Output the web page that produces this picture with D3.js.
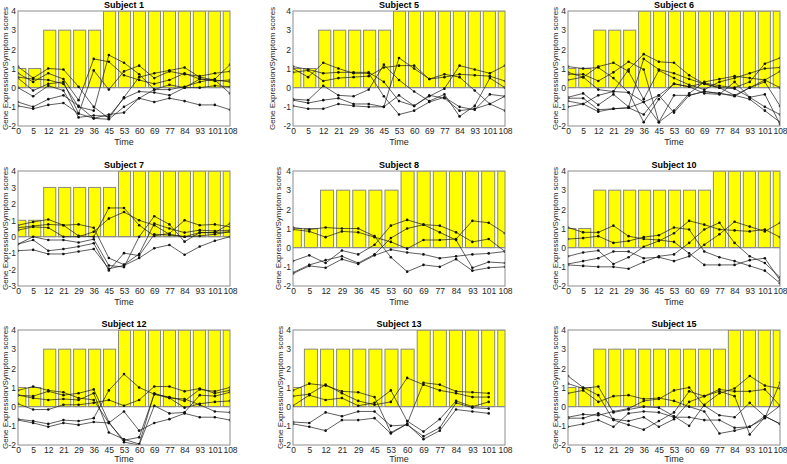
<!DOCTYPE html>
<html><head><meta charset="utf-8">
<script src="https://cdn.jsdelivr.net/npm/d3@7"></script>
<style>
html,body{margin:0;padding:0;background:#fff;}
svg{display:block;font-family:"Liberation Sans",Arial,sans-serif;}
</style></head>
<body>
<svg id="chart" width="787" height="464"></svg>
<script>
// ---------- DATA ----------
const titles = ["Subject 1","Subject 5","Subject 6","Subject 7","Subject 8","Subject 10","Subject 12","Subject 13","Subject 15"];

const timesA = ["0","5","12","21","29","36","45","53","60","69","77","84","93","101","108"];
const timesS8 = ["0","5","12","29","36","45","53","60","69","77","84","93","101","108"];
const timesS13 = ["0","5","12","21","29","45","53","60","69","77","84","93","101","108"];

const yDomainDefault = [-2, 4];
const yDomainS7 = [-3, 4];

const s1Scores = [1,1,3,3,3,3,4,4,4,4,4,4,4,4,4];
const s5Scores = [1,1,3,3,3,3,3,4,4,4,4,4,4,4,4];
const s6Scores = [1,1,3,3,3,4,4,4,4,4,4,4,4,4,4];
const s7Scores = [1,1,3,3,3,3,3,4,4,4,4,4,4,4,4];
const s8Scores = [1,1,3,3,3,3,3,4,4,4,4,4,4,4];
const s10Scores = [1,1,3,3,3,3,3,3,3,3,4,4,4,4,4];
const s12Scores = [1,1,3,3,3,3,3,4,4,4,4,4,4,4,4];
const s13Scores = [1,3,3,3,3,3,3,3,4,4,4,4,4,4];
const s15Scores = [1,1,3,3,3,3,3,3,3,3,3,4,4,4,4];

const s1Genes = [
  [1.1,0.5,1.0,0.95,0.05,-1.0,-1.6,-0.5,0.55,0.75,0.9,1.05,0.55,0.4,0.3],
  [0.75,0.3,0.75,0.45,-0.65,1.5,1.35,0.65,0.4,0.2,0.4,0.75,0.45,0.35,0.4],
  [0.55,0.45,0.4,0.2,-1.0,-1.2,1.7,1.3,0.7,-0.1,-0.1,0.05,0.3,0.45,1.2],
  [0.5,-0.15,0.2,0.3,-1.35,0.9,-0.1,0.85,1.15,0.5,0.85,0.7,0.6,0.75,0.85],
  [0.0,-0.45,0.1,-0.15,-1.55,-1.45,-1.5,-0.55,-0.2,-0.25,-0.4,0.0,0.0,0.1,0.05],
  [-0.75,-1.0,-0.6,-0.4,-0.95,-1.6,-1.65,-1.0,-0.55,-0.1,0.15,0.0,0.45,0.4,-0.3],
  [-0.95,-1.1,-0.9,-0.8,-1.35,-1.6,-1.4,-1.3,-0.55,-0.75,-0.55,-0.7,-0.9,-0.9,-1.15]
];
const s5Genes = [
  [1.1,0.95,0.75,0.8,0.8,0.8,0.3,-0.7,-0.95,-0.45,-0.05,1.15,0.95,0.75,1.15],
  [1.0,0.55,1.3,1.0,0.75,0.75,-0.45,-1.4,-1.2,-0.75,-0.5,-1.0,-1.15,-0.35,-0.45],
  [0.8,0.9,0.35,0.5,0.55,0.6,1.05,1.15,1.15,0.45,0.55,0.7,0.65,0.6,0.35],
  [-0.6,-0.65,0.1,-0.4,-0.45,-0.1,1.2,0.4,-0.2,-0.7,-0.35,-1.5,-0.95,0.5,0.0],
  [-0.65,-0.8,-0.65,-0.55,-0.85,-0.85,-1.0,1.55,1.0,0.45,0.7,0.55,-0.15,-0.85,-1.2],
  [-0.95,-1.1,-1.1,-0.85,-0.95,-1.0,-1.0,-0.4,-0.95,-0.4,-0.55,-1.2,-1.1,-0.85,-0.45]
];
const s6Genes = [
  [1.1,1.0,1.05,0.5,-0.25,-1.8,-0.6,0.2,0.05,0.25,0.1,0.0,0.3,1.25,1.55],
  [0.8,0.55,1.1,1.3,0.85,-0.6,0.9,0.5,0.15,-0.1,0.3,0.5,0.75,1.0,1.05],
  [0.7,0.7,0.35,0.8,1.35,0.95,-1.8,-1.2,-0.3,0.3,0.45,0.6,0.5,0.4,0.85],
  [0.4,0.55,-0.1,-0.2,0.95,1.75,1.35,1.3,0.65,0.2,0.0,-0.05,-0.5,-1.0,-1.4],
  [-0.5,-0.3,-0.9,-0.35,-1.0,1.5,0.95,0.75,0.45,0.2,0.0,-0.4,-0.6,-1.2,-1.8],
  [-0.55,-0.55,-1.15,-1.1,-1.05,-0.75,-0.4,-1.3,-0.4,-0.2,-0.3,-0.45,0.0,0.3,-0.95],
  [-0.7,-0.85,-1.25,-1.1,-1.05,-1.4,-0.4,0.2,0.05,-0.3,-0.35,0.3,-0.5,-0.35,-1.9],
  [-1.0,-0.85,-0.4,-0.2,-0.25,-0.75,-1.8,-0.4,-0.4,-0.2,-0.3,-0.4,0.0,0.4,0.0]
];
const s7Genes = [
  [0.7,0.9,1.05,0.7,0.05,0.0,1.75,1.75,0.7,0.05,0.2,1.0,0.7,0.75,0.6],
  [0.55,0.65,0.75,0.7,0.75,0.55,-1.3,-1.7,-1.05,0.8,0.5,0.25,0.4,0.35,0.4],
  [0.4,0.6,0.55,0.0,0.0,0.3,1.1,1.5,1.0,0.7,0.15,0.0,0.05,0.15,0.3],
  [-0.45,0.0,-0.2,-0.2,-0.35,-0.15,-1.75,-1.85,0.0,1.25,0.75,-0.3,0.25,0.25,0.8],
  [-0.45,-0.2,-0.85,-0.75,-0.6,-0.4,-2.05,-1.0,-1.15,0.15,0.1,0.0,0.25,0.25,0.3],
  [-0.85,-0.8,-1.05,-1.05,-0.9,-0.75,-1.95,-1.75,-1.3,-0.7,-0.5,-1.1,-0.6,-0.25,0.0]
];
const s8Genes = [
  [1.05,0.95,1.05,1.0,1.0,0.6,-0.5,-1.25,-0.9,-1.0,-0.6,-1.2,-1.05,-1.0],
  [0.95,0.85,0.55,0.85,0.8,0.55,0.3,-0.05,0.4,0.4,0.45,1.4,1.3,0.75],
  [-0.7,-0.4,-0.8,-0.15,-0.35,0.15,1.15,1.45,1.2,1.15,0.8,0.3,0.45,-0.2],
  [-1.3,-0.9,-0.65,-0.45,-0.8,-0.35,0.5,1.0,1.2,0.8,0.4,-1.05,-0.75,-0.8],
  [-1.35,-0.95,-1.05,-0.6,-0.85,-0.4,-0.1,-0.25,-0.35,-0.55,-0.45,-0.35,-0.3,-0.2]
];
const s10Genes = [
  [1.05,0.8,0.8,1.15,0.6,0.45,0.4,0.3,-0.3,-0.9,-0.9,-0.9,-0.65,-0.55,-1.7],
  [0.45,0.5,0.6,0.25,0.35,0.55,0.65,1.05,0.95,-0.2,-0.5,-0.7,-0.95,-1.2,-1.85],
  [-0.45,-0.25,-0.15,-0.85,-0.5,0.05,0.35,0.75,1.4,1.2,0.95,0.9,0.85,0.95,0.55],
  [-0.85,-0.7,-0.55,-0.2,-0.2,-0.55,-0.5,-0.7,-0.45,0.15,0.7,1.35,1.1,0.85,1.3],
  [-0.9,-0.95,-1.0,-1.0,-1.1,-0.75,-0.45,-0.35,0.25,0.95,1.3,0.25,-0.45,-0.8,-1.55]
];
const s12Genes = [
  [0.85,1.05,0.85,0.75,0.45,0.35,-0.85,-1.75,-1.6,0.65,0.5,0.3,0.9,0.8,1.0],
  [0.6,0.55,0.8,0.6,0.7,0.9,-0.8,-1.85,-2.0,0.05,-0.35,-0.3,0.6,0.55,0.75],
  [0.6,0.45,0.35,0.4,0.35,0.7,-1.35,-1.7,-1.95,0.7,0.45,0.4,0.1,-0.25,-0.3],
  [0.15,-0.15,-0.15,0.1,0.1,0.2,0.35,0.05,0.35,1.05,1.05,0.8,0.95,0.7,0.85],
  [-0.65,-0.75,-0.9,-0.7,-0.75,-0.6,0.85,1.7,1.0,0.65,0.45,-0.05,0.15,0.25,0.3],
  [-0.7,-0.85,-1.05,-0.85,-0.95,-0.8,-0.85,-0.25,-1.25,-0.85,-0.65,-0.35,-0.55,-0.55,-0.7]
];
const s13Genes = [
  [0.85,1.2,1.1,0.8,0.75,0.5,-1.35,-0.9,1.25,1.15,0.8,0.75,0.7],
  [0.55,0.65,1.15,0.7,0.3,0.1,0.25,1.5,1.15,0.85,0.7,0.5,0.5],
  [0.05,0.6,0.35,0.45,0.05,0.2,0.85,-0.75,-1.3,-0.65,0.3,0.0,0.25],
  [-0.8,-0.85,-0.3,-0.5,-0.25,-0.25,-1.0,-0.95,-1.55,-1.1,0.2,-0.05,-0.1],
  [-0.9,-1.05,-1.25,-0.7,-0.7,-0.6,-1.4,-0.9,-1.7,-1.25,-0.15,-0.25,-0.35]
];
const s15Genes = [
  [1.6,1.0,0.6,-0.7,-0.95,-1.2,-0.75,-0.3,0.8,0.55,0.9,0.8,0.8,0.9,0.05],
  [1.2,0.95,1.05,-0.3,-0.15,0.0,-0.05,-0.5,-1.0,0.1,0.7,0.95,1.6,1.1,0.95],
  [0.7,0.85,0.25,0.55,0.6,0.4,0.45,0.3,0.0,-0.25,-1.4,-1.25,-1.05,-0.6,1.25],
  [-0.55,-0.4,-0.45,-0.25,-0.1,0.3,0.4,0.85,1.0,0.05,-0.45,-0.55,0.2,-0.5,-0.9],
  [-0.6,-0.6,-0.35,-0.65,-0.75,-0.55,-1.05,-0.65,0.25,0.55,0.8,0.55,-1.45,-0.55,0.05],
  [-1.05,-0.9,-0.7,-1.05,-0.35,-0.25,-0.3,-0.55,-0.55,-0.7,-0.7,-1.1,-1.05,-0.5,-0.9]
];

const panelData = [
  {times: timesA,  scores: s1Scores,  genes: s1Genes,  y: yDomainDefault},
  {times: timesA,  scores: s5Scores,  genes: s5Genes,  y: yDomainDefault},
  {times: timesA,  scores: s6Scores,  genes: s6Genes,  y: yDomainDefault},
  {times: timesA,  scores: s7Scores,  genes: s7Genes,  y: yDomainS7},
  {times: timesS8, scores: s8Scores,  genes: s8Genes,  y: yDomainDefault},
  {times: timesA,  scores: s10Scores, genes: s10Genes, y: yDomainDefault},
  {times: timesA,  scores: s12Scores, genes: s12Genes, y: yDomainDefault},
  {times: timesS13,scores: s13Scores, genes: s13Genes, y: yDomainDefault},
  {times: timesA,  scores: s15Scores, genes: s15Genes, y: yDomainDefault}
];

// ---------- LAYOUT ----------
const colLeft = [18, 293, 568];
const rowTop = [11, 171, 330];
const plotW = 212, plotH = 115;
const xlabelGap = [18.5, 18.5, 16.5];
const ylabelX = [4.5, 272, 554.5, 4.5, 277.5, 554.5, 4.5, 280, 554.5];

const svg = d3.select("#chart");
const axisColor = "#8c8c8c";
const textColor = "#262626";

panelData.forEach((p, k) => {
  const row = Math.floor(k / 3);
  const left = colLeft[k % 3], top = rowTop[row];
  const right = left + plotW, bottom = top + plotH;
  const n = p.times.length;
  const x = d3.scaleLinear().domain([0, n - 1]).range([left, right]);
  const xb = d3.scaleLinear().domain([0, n - 1]).range([left + 1.8, right - 0.7]);
  const y = d3.scaleLinear().domain(p.y).range([bottom, top]);
  const step = (right - left) / (n - 1);
  const bw = step * 0.8;

  const g = svg.append("g");
  const clipId = "clip" + k;
  g.append("clipPath").attr("id", clipId).append("rect")
    .attr("x", left).attr("y", top).attr("width", plotW).attr("height", plotH);

  const plot = g.append("g").attr("clip-path", `url(#${clipId})`);
  plot.selectAll("rect.bar").data(p.scores).join("rect")
    .attr("class", "bar")
    .attr("x", (d, i) => xb(i) - bw / 2)
    .attr("width", bw)
    .attr("y", d => y(d))
    .attr("height", d => y(0) - y(d))
    .attr("fill", "#ffff00")
    .attr("stroke", "#8a8a7a")
    .attr("stroke-width", 1);

  plot.append("line")
    .attr("x1", left).attr("x2", right)
    .attr("y1", y(0)).attr("y2", y(0))
    .attr("stroke", "#8a8a8a").attr("stroke-width", 1);

  const line = d3.line().x((d, i) => x(i)).y(d => y(d));
  p.genes.forEach(series => {
    plot.append("path").datum(series)
      .attr("d", line)
      .attr("fill", "none")
      .attr("stroke", "#1a1a1a")
      .attr("stroke-width", 0.7);
    plot.selectAll(null).data(series).join("circle")
      .attr("cx", (d, i) => x(i))
      .attr("cy", d => y(d))
      .attr("r", 1.3)
      .attr("fill", "#111");
  });

  g.append("rect").attr("x", left).attr("y", top)
    .attr("width", plotW).attr("height", plotH)
    .attr("fill", "none").attr("stroke", axisColor).attr("stroke-width", 1);

  const xAxis = d3.axisBottom(x)
    .tickValues(d3.range(n))
    .tickFormat(i => p.times[i])
    .tickSize(0).tickPadding(2);
  const gx = g.append("g").attr("transform", `translate(0,${bottom})`).call(xAxis);
  gx.select(".domain").remove();
  gx.selectAll("text").attr("font-size", 8.5).attr("fill", textColor)
    .attr("font-family", "Liberation Sans, Arial, sans-serif");

  const yTicks = d3.range(p.y[0], p.y[1] + 1);
  const yAxis = d3.axisLeft(y).tickValues(yTicks).tickFormat(d => String(d).replace("\u2212", "-"))
    .tickSize(0).tickPadding(2);
  const gy = g.append("g").attr("transform", `translate(${left},0)`).call(yAxis);
  gy.select(".domain").remove();
  gy.selectAll("text").attr("font-size", 8.5).attr("fill", textColor)
    .attr("font-family", "Liberation Sans, Arial, sans-serif");

  g.append("text").attr("x", (left + right) / 2).attr("y", top - 3)
    .attr("text-anchor", "middle").attr("font-size", 9).attr("font-weight", "bold")
    .attr("fill", "#000").text(titles[k]);

  g.append("text").attr("x", (left + right) / 2).attr("y", bottom + xlabelGap[row])
    .attr("text-anchor", "middle").attr("font-size", 9).attr("fill", textColor).text("Time");

  g.append("text")
    .attr("transform", `translate(${ylabelX[k] + 3},${(top + bottom) / 2}) rotate(-90)`)
    .attr("text-anchor", "middle").attr("font-size", 8).attr("fill", textColor)
    .text("Gene Expression/Symptom scores");
});
</script>
</body></html>
